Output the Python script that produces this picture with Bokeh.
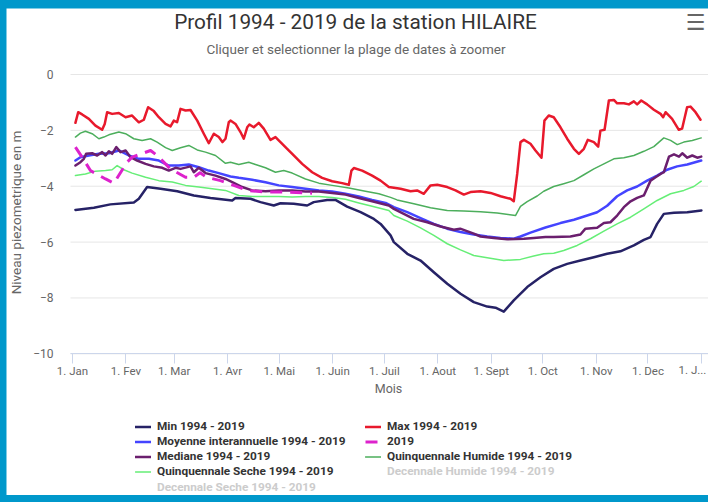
import math
from bokeh.plotting import figure
from bokeh.models import (ColumnDataSource, FixedTicker, Label, Legend, LegendItem,
                          Range1d, GlobalInlineStyleSheet)
from bokeh.embed import file_html
from bokeh.resources import INLINE

FONT = "Roboto"

TITLE = "Profil 1994 - 2019 de la station HILAIRE"
SUBTITLE = "Cliquer et selectionner la plage de dates à zoomer"
Y_LABEL = "Niveau piezometrique en m"
X_LABEL = "Mois"

month_days = [0, 31, 59, 90, 120, 151, 181, 212, 243, 273, 304, 334, 365]
month_labels = ["1. Jan", "1. Fev", "1. Mar", "1. Avr", "1. Mai", "1. Juin", "1. Juil",
                "1. Aout", "1. Sept", "1. Oct", "1. Nov", "1. Dec", "1. J..."]
y_ticks = [-10, -8, -6, -4, -2, 0]
y_tick_labels = ["\u221210", "\u22128", "\u22126", "\u22124", "\u22122", "0"]

# Min 1994 - 2019
min_days = [1.7, 12.4, 22, 35.6, 38.5, 43.3, 51.1, 60.8, 70.4, 80.1, 92.7, 94.6, 103.3, 109.1,
            116.8, 120.7, 128.4, 136.2, 140, 147.8, 152.6, 159.4, 167.2, 174.9, 178.8, 184.6,
            186.5, 194.3, 202, 209.7, 217.5, 225.2, 232.9, 240.7, 245.5, 250.3, 256.1, 263.9,
            271.6, 279.3, 287.1, 294.8, 302.6, 310.3, 318, 325.8, 331.6, 335.5, 339.3, 343.2,
            349.1, 356.8, 365]
min_vals = [-4.85, -4.77, -4.65, -4.58, -4.45, -4.03, -4.09, -4.18, -4.33, -4.42, -4.51, -4.42,
            -4.45, -4.57, -4.69, -4.61, -4.63, -4.69, -4.57, -4.49, -4.49, -4.73, -4.93, -5.17,
            -5.35, -5.76, -6.0, -6.42, -6.66, -7.08, -7.49, -7.85, -8.15, -8.31, -8.35, -8.49,
            -8.09, -7.61, -7.26, -6.96, -6.78, -6.66, -6.54, -6.42, -6.33, -6.12, -5.92, -5.82,
            -5.35, -4.99, -4.95, -4.93, -4.87]

# Max 1994 - 2019
max_days = [1.7, 3.3, 5.6, 9.5, 13.3, 17.2, 18.7, 20.1, 23, 26.9, 30.8, 34.6, 38.5, 41.4, 43.9,
            47.2, 50.1, 54, 56.9, 58.8, 60.7, 62.7, 65.6, 68.5, 72.4, 76.2, 79.1, 82, 84.9, 87,
            88.8, 90.7, 91.7, 94.6, 97.5, 99.4, 101.4, 102.7, 105.2, 108.1, 111, 114.9, 117.8,
            120.7, 124.6, 128.4, 133.3, 139.1, 144.9, 150.7, 156.5, 160.4, 161.9, 163.3, 168.1,
            173.9, 178.8, 183.6, 190.4, 196.2, 200, 203.9, 207.8, 211.7, 217.5, 222.3, 227.1,
            231, 236.8, 242.6, 248.4, 254.2, 256.1, 258.1, 260, 262, 265.8, 268.7, 272.2, 273.9,
            276.4, 279.3, 283.2, 287.1, 291, 293.9, 296.8, 299.1, 302.6, 305.1, 306.4, 308.8,
            311.3, 314.2, 316.1, 320, 322.9, 325.8, 327.7, 330.1, 333.5, 337.4, 341.3, 342.8,
            344.2, 348, 351.9, 353.8, 356.7, 358.7, 361.6, 364.5]
max_vals = [-1.73, -1.35, -1.43, -1.59, -1.83, -1.98, -1.77, -1.35, -1.41, -1.38, -1.53, -1.47,
            -1.71, -1.62, -1.17, -1.31, -1.53, -1.77, -1.86, -1.65, -1.71, -1.23, -1.29, -1.27,
            -1.65, -2.12, -2.46, -2.12, -2.24, -2.42, -2.30, -1.71, -1.65, -1.77, -2.06, -2.30,
            -1.89, -1.79, -1.89, -1.73, -1.94, -2.34, -2.24, -2.42, -2.66, -2.90, -3.20, -3.50,
            -3.70, -3.82, -3.89, -3.95, -3.44, -3.35, -3.44, -3.62, -3.80, -4.03, -4.09, -4.18,
            -4.15, -4.27, -3.97, -3.95, -4.03, -4.15, -4.30, -4.21, -4.18, -4.24, -4.36, -4.45,
            -4.54, -3.56, -2.42, -2.34, -2.48, -2.72, -2.98, -1.65, -1.47, -1.53, -1.89, -2.30,
            -2.66, -2.84, -2.66, -2.34, -2.42, -2.58, -2.01, -1.98, -0.93, -0.91, -1.03, -1.03,
            -1.07, -0.96, -1.07, -0.93, -1.07, -1.26, -1.41, -1.53, -1.35, -1.59, -1.98, -1.94,
            -1.17, -1.15, -1.35, -1.62]

# Moyenne interannuelle 1994 - 2019
moy_days = [1.7, 4.6, 9.5, 15.3, 21.1, 26.9, 32.7, 38.5, 44.3, 50.1, 55.9, 61.7, 67.5, 73.3,
            79.1, 84.9, 91.7, 96.5, 104.3, 112, 119.7, 127.5, 135.2, 143, 150.7, 158.4, 166.2,
            173.9, 181.7, 186.5, 194.3, 202, 209.7, 217.5, 225.2, 232.9, 240.7, 248.4, 256.1,
            260, 265.8, 274.5, 283.2, 291, 298.7, 304.5, 310.3, 316.1, 321.9, 327.7, 333.5,
            339.3, 345.1, 350.9, 356.8, 364.9]
moy_vals = [-3.08, -2.96, -2.90, -2.84, -2.82, -2.72, -2.90, -3.02, -3.02, -3.08, -3.26, -3.26,
            -3.22, -3.32, -3.44, -3.53, -3.65, -3.70, -3.77, -3.86, -3.97, -4.03, -4.09, -4.15,
            -4.19, -4.27, -4.37, -4.49, -4.60, -4.75, -4.93, -5.14, -5.35, -5.52, -5.64, -5.73,
            -5.80, -5.85, -5.88, -5.80, -5.66, -5.48, -5.32, -5.20, -5.05, -4.93, -4.70, -4.36,
            -4.15, -4.01, -3.80, -3.62, -3.41, -3.29, -3.22, -3.08]

# 2019
y2019_days = [1.7, 6, 10.4, 19.2, 24, 31.7, 34.6, 45.3, 49.1, 56.9, 65.6, 70.4, 74, 78, 85.9,
              93.6, 101.4, 113, 124.6, 139]
y2019_vals = [-2.60, -3.00, -3.44, -3.74, -3.89, -3.14, -2.96, -2.72, -2.90, -3.38, -3.68, -3.68,
              -3.52, -3.68, -3.80, -3.97, -4.15, -4.21, -4.21, -4.25]

# Mediane 1994 - 2019
med_days = [1.7, 4.6, 6.6, 7.9, 11.4, 14.3, 17.2, 19.2, 21.1, 23, 25.4, 27.9, 30.8, 33.7, 37.5,
            42.4, 47.2, 52.1, 55.9, 59.8, 62.7, 68.5, 70.4, 73.3, 77.2, 83, 88.8, 92.7, 98.5,
            104.3, 112, 119.7, 127.5, 135.2, 143, 150.7, 158.4, 166.2, 173.9, 183.6, 186.5,
            194.3, 198, 205.9, 213.6, 221.3, 225, 232.9, 236.8, 244.5, 252.3, 262, 267.7, 274.5,
            279.3, 289, 294.8, 297.7, 304.5, 308.4, 312.2, 316.1, 320, 323.9, 327.7, 331.6,
            335.5, 338.4, 341.3, 343.2, 346.2, 349.1, 352, 353.9, 356.8, 359.7, 362.6, 364.9]
med_vals = [-3.26, -3.14, -3.02, -2.84, -2.82, -2.90, -2.78, -2.90, -2.75, -2.84, -2.60, -2.78,
            -2.72, -2.96, -3.08, -3.20, -3.29, -3.34, -3.44, -3.34, -3.38, -3.29, -3.50, -3.34,
            -3.53, -3.62, -3.74, -3.85, -4.03, -4.15, -4.18, -4.15, -4.15, -4.19, -4.19, -4.24,
            -4.30, -4.42, -4.54, -4.69, -4.81, -5.05, -5.17, -5.29, -5.44, -5.56, -5.52, -5.70,
            -5.80, -5.85, -5.90, -5.88, -5.85, -5.82, -5.82, -5.80, -5.73, -5.52, -5.49, -5.32,
            -5.29, -5.05, -4.75, -4.54, -4.42, -4.33, -3.80, -3.68, -3.56, -3.50, -2.94, -2.86,
            -2.94, -2.82, -2.98, -2.90, -2.98, -2.94]

# Quinquennale Humide 1994 - 2019
qh_days = [1.7, 4.6, 7.5, 11.4, 15.3, 18.2, 21.1, 26.9, 30.8, 35.6, 40.4, 45.3, 49.1, 54, 57.9,
           62.7, 67.5, 72.4, 77.2, 83, 88.8, 91.7, 96.5, 102.3, 106.2, 112, 117.8, 122.6, 127.5,
           135.2, 143, 150.7, 160.4, 170, 177.8, 184.6, 188.4, 198.1, 207.8, 217.5, 227.1,
           236.8, 246.5, 257.1, 260, 263.9, 269.7, 273.5, 279.3, 285.1, 291, 296.8, 302.6,
           308.4, 314.2, 320, 325.8, 331.6, 337.4, 343.2, 347.1, 351, 354.8, 359.7, 364.9]
qh_vals = [-2.24, -2.10, -2.03, -2.12, -2.30, -2.24, -2.16, -2.06, -2.12, -2.30, -2.36, -2.30,
           -2.42, -2.62, -2.72, -2.62, -2.54, -2.70, -2.78, -2.90, -3.18, -3.14, -3.22, -3.14,
           -3.22, -3.34, -3.50, -3.44, -3.53, -3.74, -3.89, -3.97, -4.06, -4.18, -4.27, -4.40,
           -4.49, -4.63, -4.77, -4.87, -4.89, -4.91, -4.96, -5.05, -4.72, -4.55, -4.35, -4.18,
           -4.01, -3.91, -3.80, -3.59, -3.38, -3.20, -3.02, -2.98, -2.90, -2.75, -2.58, -2.27,
           -2.36, -2.51, -2.42, -2.36, -2.27]

# Quinquennale Seche 1994 - 2019
qs_days = [1.7, 7.5, 13.3, 19.2, 23, 25.9, 29.8, 34.6, 42.4, 50.1, 57.9, 65.6, 73.3, 81.1, 88.8,
           96.5, 104.3, 112, 119.7, 127.5, 135.2, 143, 150.7, 158.4, 166.2, 173.9, 183.6, 186.5,
           194.3, 202, 209.7, 217.5, 225.2, 232.9, 240.7, 250.3, 260, 267.7, 273.5, 279.3,
           285.1, 292.9, 300.6, 308.4, 316.1, 323.9, 331.6, 339.3, 347.1, 354.8, 360.6, 364.9]
qs_vals = [-3.62, -3.56, -3.46, -3.44, -3.41, -3.26, -3.41, -3.53, -3.68, -3.80, -3.85, -3.97,
           -4.03, -4.09, -4.15, -4.33, -4.37, -4.37, -4.37, -4.39, -4.37, -4.37, -4.40, -4.47,
           -4.60, -4.72, -4.87, -5.05, -5.25, -5.49, -5.76, -6.06, -6.28, -6.48, -6.56, -6.66,
           -6.62, -6.50, -6.42, -6.40, -6.30, -6.12, -5.88, -5.61, -5.35, -5.11, -4.81, -4.51,
           -4.27, -4.15, -4.01, -3.82]

# Decennale series (hidden in the chart: only their greyed legend entries are shown)
dh_days, dh_vals = [], []
ds_days, ds_vals = [], []

# The whole figure is the plot frame; the data window is -1.16..368 days x -10..0 m
W, H = 702, 487
PX_PER_DAY, PX_PER_M = 1.723, 27.93
X0 = -66 / PX_PER_DAY               # left edge of the figure, in days
X1 = X0 + W / PX_PER_DAY
Y1 = 66 / PX_PER_M                  # top edge of the figure, in metres
Y0 = Y1 - H / PX_PER_M
AXIS_X = -1.16                      # where the value axis sits

p = figure(width=W, height=H, output_backend="svg", toolbar_location=None, title=None,
           x_range=Range1d(X0, X1), y_range=Range1d(Y0, Y1),
           min_border_left=0, min_border_right=0, min_border_top=0, min_border_bottom=0)
p.background_fill_color = "white"
p.border_fill_color = "white"
p.outline_line_color = None
p.stylesheets = [GlobalInlineStyleSheet(
    css="body { background-color: #0098cb; padding: 8px 0 0 6px; }")]
p.xgrid.grid_line_color = None
p.ygrid.grid_line_color = None

# horizontal grid lines, only across the data window
p.segment(x0=[AXIS_X] * len(y_ticks), x1=[X1] * len(y_ticks), y0=y_ticks, y1=y_ticks,
          line_color="#e6e6e6", line_width=1)

xa = p.xaxis[0]
xa.fixed_location = -10
xa.bounds = (AXIS_X, X1)
xa.ticker = FixedTicker(ticks=month_days)
over = {d: l for d, l in zip(month_days, month_labels)}
over[month_days[-1]] = ""
xa.major_label_overrides = over
xa.axis_line_color = "#ccd6eb"
xa.major_tick_line_color = "#ccd6eb"
xa.major_tick_out = 10
xa.major_tick_in = 0
xa.minor_tick_line_color = None
xa.minor_tick_out = 0
xa.major_label_standoff = 0
xa.major_label_text_color = "#666666"
xa.major_label_text_font = FONT
xa.major_label_text_font_size = "11.5px"

ya = p.yaxis[0]
ya.fixed_location = AXIS_X
ya.bounds = (-10, 0)
ya.ticker = FixedTicker(ticks=y_ticks)
ya.major_label_overrides = {t: l for t, l in zip(y_ticks, y_tick_labels)}
ya.axis_line_color = None
ya.major_tick_line_color = None
ya.minor_tick_line_color = None
ya.major_tick_out = 0
ya.major_tick_in = 0
ya.minor_tick_out = 0
ya.major_label_standoff = 17
ya.major_label_text_color = "#666666"
ya.major_label_text_font = FONT
ya.major_label_text_font_size = "12px"


def add(days, vals, color, width, dash="solid"):
    src = ColumnDataSource(dict(x=days, y=vals))
    return p.line("x", "y", source=src, line_color=color, line_width=width, line_dash=dash,
                  line_join="round", line_cap="round")


r_qs = add(qs_days, qs_vals, "#66ee77", 1.5)
r_qh = add(qh_days, qh_vals, "#4cae5c", 1.5)
r_min = add(min_days, min_vals, "#262266", 2.5)
r_max = add(max_days, max_vals, "#e8192c", 2.5)
r_moy = add(moy_days, moy_vals, "#4444ff", 2.5)
r_med = add(med_days, med_vals, "#6b1f6e", 2.5)
r_2019 = add(y2019_days, y2019_vals, "#dd22cc", 3, dash="12 8")
r_2019.glyph.line_cap = "butt"
r_dh = add(dh_days, dh_vals, "#cccccc", 2)
r_ds = add(ds_days, ds_vals, "#cccccc", 2)

LEG_STYLE = dict(orientation="vertical", label_text_font=FONT, label_text_font_style="bold",
                 label_text_font_size="11.8px", glyph_width=16, glyph_height=15,
                 label_height=15, label_standoff=6, spacing=0, padding=0, margin=0,
                 border_line_color=None, background_fill_alpha=0)


def legend(entries, x, y, color):
    lg = Legend(items=[LegendItem(label=l, renderers=[r]) for l, r in entries],
                location=(x, y), label_text_color=color, **LEG_STYLE)
    p.add_layout(lg)


# legend columns (location = bottom-left corner, from the figure's bottom-left)
legend([("Min 1994 - 2019", r_min),
        ("Moyenne interannuelle 1994 - 2019", r_moy),
        ("Mediane 1994 - 2019", r_med),
        ("Quinquennale Seche 1994 - 2019", r_qs)], 129, 16.5, "#333333")
legend([("Decennale Seche 1994 - 2019", r_ds)], 129, 1.0, "#cccccc")
legend([("Max 1994 - 2019", r_max),
        ("2019", r_2019),
        ("Quinquennale Humide 1994 - 2019", r_qh)], 359, 31.5, "#333333")
legend([("Decennale Humide 1994 - 2019", r_dh)], 359, 16.5, "#cccccc")


def text(x, y, s, size, color, font=FONT, angle=0.0, bold=False):
    p.add_layout(Label(x=x, y=y, x_units="screen", y_units="screen", text=s,
                       text_align="center", text_baseline="middle", text_font=font,
                       text_font_size=size, text_color=color, angle=angle,
                       text_font_style="bold" if bold else "normal"))


text(349, 474, TITLE, "20.8px", "#333333")
text(349.5, 447, SUBTITLE, "13.5px", "#666666")
text(689, 473, "\u2630", "22px", "#666666", font="DejaVu Sans", bold=True)
text(9, 283, Y_LABEL, "13.5px", "#666666", angle=math.pi / 2)
text(382, 107, X_LABEL, "12.5px", "#666666")
text(686, 125.5, month_labels[-1], "11.5px", "#666666")

open("out.html", "w").write(file_html(p, INLINE))
